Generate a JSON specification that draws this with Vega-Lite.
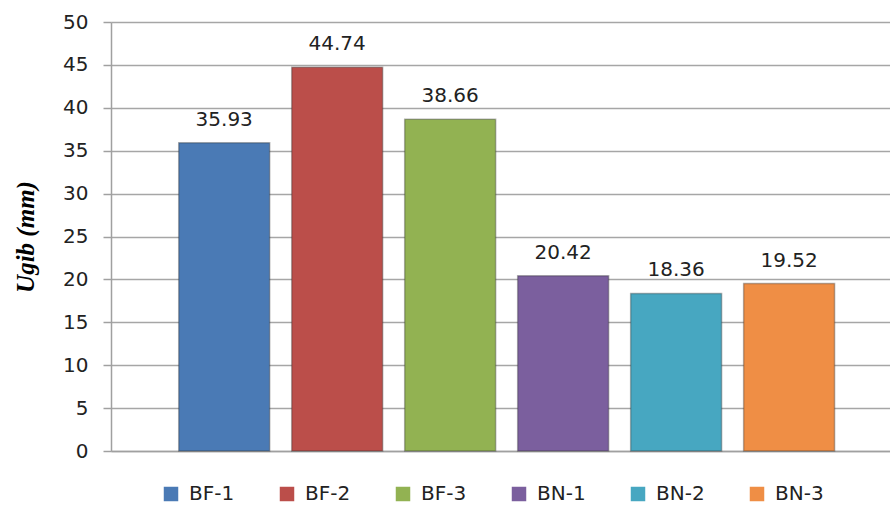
{
  "$schema": "https://vega.github.io/schema/vega-lite/v6.json",
  "autosize": {"type": "none"},
  "width": 779,
  "height": 429,
  "padding": {"left": 111, "top": 22, "right": 0, "bottom": 59},
  "background": "white",
  "data": {"values": [
    {"sample": "BF-1", "ugib": 35.93},
    {"sample": "BF-2", "ugib": 44.74},
    {"sample": "BF-3", "ugib": 38.66},
    {"sample": "BN-1", "ugib": 20.42},
    {"sample": "BN-2", "ugib": 18.36},
    {"sample": "BN-3", "ugib": 19.52}
  ]},
  "config": {
    "view": {"stroke": null},
    "font": "DejaVu Sans"
  },
  "encoding": {
    "x": {
      "field": "sample", "type": "nominal", "sort": null,
      "scale": {"paddingInner": 0.195, "paddingOuter": 0.545, "align": 0.55},
      "axis": {"title": null, "labels": false, "ticks": false, "domain": true, "domainColor": "#a0a0a0", "domainWidth": 1.5}
    },
    "y": {
      "field": "ugib", "type": "quantitative",
      "scale": {"domain": [0, 50], "nice": false},
      "axis": {
        "values": [0, 5, 10, 15, 20, 25, 30, 35, 40, 45, 50],
        "title": "Ugib (mm)",
        "titleFont": "Liberation Serif",
        "titleFontStyle": "italic",
        "titleFontWeight": "bold",
        "titleFontSize": 25,
        "titleColor": "#000",
        "titlePadding": 24,
        "labelFont": "DejaVu Sans",
        "labelFontSize": 20,
        "labelColor": "#222",
        "labelPadding": 15,
        "tickSize": 8,
        "tickColor": "#a0a0a0",
        "tickWidth": 1.5,
        "domainColor": "#a0a0a0",
        "domainWidth": 1.5,
        "grid": true,
        "gridColor": "#a6a6a6",
        "gridWidth": 1.5
      }
    }
  },
  "layer": [
    {
      "mark": {"type": "bar", "stroke": "#2a2a2a", "strokeOpacity": 0.35, "strokeWidth": 1.5},
      "encoding": {
        "color": {
          "field": "sample", "type": "nominal", "sort": null,
          "scale": {"range": ["#4a7ab5", "#bb4e4a", "#92b252", "#7b5f9e", "#47a7c1", "#ef8e45"]},
          "legend": {
            "title": null,
            "orient": "none",
            "legendX": 50,
            "legendY": 462,
            "direction": "horizontal",
            "columns": 6,
            "symbolType": "square",
            "symbolSize": 210,
            "symbolStrokeWidth": 0,
            "labelFont": "DejaVu Sans",
            "labelFontSize": 20,
            "labelColor": "#222",
            "labelOffset": 8,
            "columnPadding": 42
          }
        }
      }
    },
    {
      "mark": {"type": "text", "baseline": "alphabetic", "dy": -17, "font": "DejaVu Sans", "fontSize": 20, "color": "#222"},
      "encoding": {
        "text": {"field": "ugib", "type": "quantitative", "format": ".2f"}
      }
    }
  ]
}
